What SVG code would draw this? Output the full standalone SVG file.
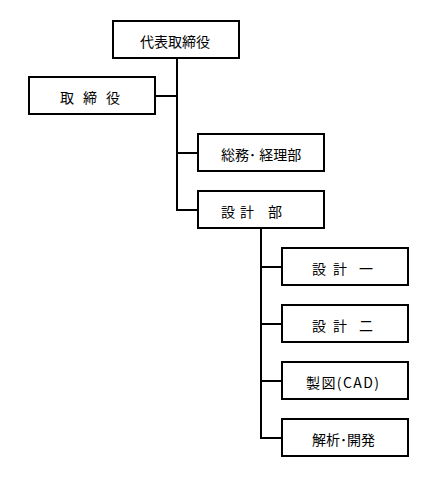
<svg xmlns="http://www.w3.org/2000/svg" width="442" height="477" viewBox="0 0 442 477">
<style>
.box{fill:#fff;stroke:#000;stroke-width:2}
.conn{fill:none;stroke:#000;stroke-width:2}
text{font-family:"Noto Sans CJK JP","Noto Sans CJK SC",sans-serif;font-size:14px;fill:#000}
</style>
<rect width="442" height="477" fill="#fff"/>
<g id="connectors">
<path class="conn" d="M177,58 V210 H198"/>
<path class="conn" d="M155,96 H177"/>
<path class="conn" d="M177,153 H198"/>
<path class="conn" d="M261,228 V438 H282"/>
<path class="conn" d="M261,267 H282"/>
<path class="conn" d="M261,324 H282"/>
<path class="conn" d="M261,381 H282"/>
</g>
<g id="ceo"><rect class="box" x="113" y="21" width="126" height="37"/><text x="140" y="47">代表取締役</text></g>
<g id="directors"><rect class="box" x="29" y="77" width="126" height="37"/><text xml:space="preserve" x="60 76 83 99 106" y="103">取 締 役</text></g>
<g id="general"><rect class="box" x="198" y="134" width="126" height="37"/><text xml:space="preserve" x="221" y="160">総務･ 経理部</text></g>
<g id="design"><rect class="box" x="198" y="191" width="126" height="37"/><text xml:space="preserve" x="221 235 240 254 268" y="217">設 計 部</text></g>
<g id="design1"><rect class="box" x="282" y="248" width="126" height="37"/><text xml:space="preserve" x="312 326 333 347 359" y="274">設 計 一</text></g>
<g id="design2"><rect class="box" x="282" y="305" width="126" height="37"/><text xml:space="preserve" x="312 326 333 347 359" y="331">設 計 二</text></g>
<g id="cad"><rect class="box" x="282" y="362" width="126" height="37"/><text x="306" y="388" textLength="73" lengthAdjust="spacing">製図(CAD)</text></g>
<g id="analysis"><rect class="box" x="282" y="419" width="126" height="37"/><text x="312" y="445">解析･開発</text></g>
</svg>
